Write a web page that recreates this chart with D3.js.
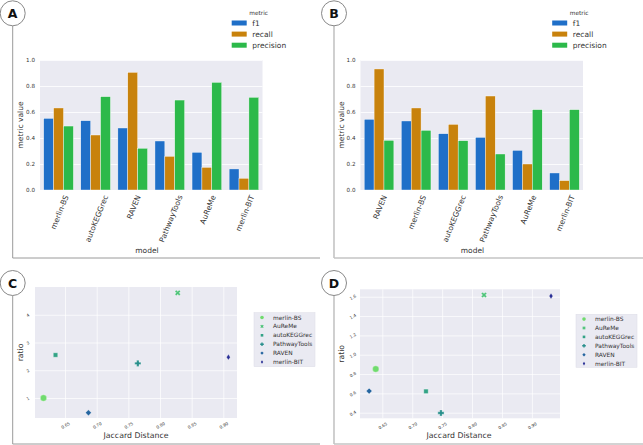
<!DOCTYPE html>
<html><head><meta charset="utf-8">
<script src="https://cdn.jsdelivr.net/npm/d3@7"></script>
<style>body{margin:0;background:#fff}svg{display:block;font-family:"DejaVu Sans",sans-serif}</style>
</head><body><svg id="c" width="643" height="445"></svg>
<script>
// ---------- data ----------
const metrics = ["f1", "recall", "precision"];
const metricColors = ["#1f6fc8", "#c8820c", "#2cb94a"];

const modelsA = ["merlin-BS", "autoKEGGrec", "RAVEN", "PathwayTools", "AuReMe", "merlin-BIT"];
const f1A        = [0.551, 0.533, 0.477, 0.377, 0.290, 0.162];
const recallA    = [0.631, 0.423, 0.905, 0.259, 0.174, 0.090];
const precisionA = [0.492, 0.718, 0.321, 0.692, 0.828, 0.713];

const modelsB = ["RAVEN", "merlin-BS", "autoKEGGrec", "PathwayTools", "AuReMe", "merlin-BIT"];
const f1B        = [0.544, 0.531, 0.433, 0.405, 0.305, 0.131];
const recallB    = [0.931, 0.631, 0.505, 0.723, 0.200, 0.072];
const precisionB = [0.382, 0.459, 0.379, 0.277, 0.618, 0.618];

const barTicks = [0, 0.2, 0.4, 0.6, 0.8, 1.0];

const scatterModels = ["merlin-BS", "AuReMe", "autoKEGGrec", "PathwayTools", "RAVEN", "merlin-BIT"];
const scatterColors = ["#70db6e", "#4fc47a", "#33a386", "#288f8c", "#2565a0", "#2a3096"];
const jaccardC = [0.616, 0.828, 0.635, 0.765, 0.687, 0.908];
const ratioC   = [1.00, 4.79, 2.55, 2.25, 0.47, 2.47];
const jaccardD = [0.639, 0.820, 0.723, 0.748, 0.628, 0.932];
const ratioD   = [0.852, 1.618, 0.621, 0.397, 0.624, 1.607];

const xTicksScatter = [0.65, 0.70, 0.75, 0.80, 0.85, 0.90];
const yTicksC = [1, 2, 3, 4];
const yTicksD = [0.4, 0.6, 0.8, 1.0, 1.2, 1.4, 1.6];

// ---------- drawing ----------
const svg = d3.select("#c");
const BG = "#eaeaf2";
const TXT = "#333";

function panelFrame(cx, cy, letter, bottomY, rightX, col, sw) {
  svg.append("line").attr("x1", cx).attr("y1", cy + 12.5).attr("x2", cx).attr("y2", bottomY)
    .attr("stroke", col).attr("stroke-width", sw);
  svg.append("line").attr("x1", cx).attr("y1", bottomY).attr("x2", rightX).attr("y2", bottomY)
    .attr("stroke", col).attr("stroke-width", sw);
  svg.append("circle").attr("cx", cx).attr("cy", cy).attr("r", 12.5)
    .attr("fill", "#fff").attr("stroke", "#888").attr("stroke-width", 1);
  svg.append("text").attr("x", cx).attr("y", cy).attr("dy", "0.36em").attr("text-anchor", "middle")
    .attr("font-size", 12.5).attr("font-weight", "bold").attr("fill", "#111").text(letter);
}

function barPanel(ox, models, vals, modelX) {
  const x0 = ox + 40, x1 = ox + 262.5, yTop = 60, yBot = 190;
  const g = svg.append("g");
  g.append("rect").attr("x", x0).attr("y", yTop).attr("width", x1 - x0).attr("height", yBot - yTop).attr("fill", BG);
  const y = d3.scaleLinear().domain([0, 1]).range([yBot, yTop]);
  const x = d3.scaleBand().domain(models).range([x0, x1]);
  const xs = d3.scaleBand().domain(metrics).range([0, x.bandwidth() * 0.8]);
  const color = d3.scaleOrdinal().domain(metrics).range(metricColors);
  g.append("g").attr("transform", `translate(${x0},0)`)
    .call(d3.axisLeft(y).tickValues(barTicks).tickSize(-(x1 - x0)).tickFormat(""))
    .call(a => a.select(".domain").remove())
    .call(a => a.selectAll("line").attr("stroke", "#fff").attr("stroke-width", 0.8));
  g.append("g").attr("transform", `translate(${x0},0)`)
    .call(d3.axisLeft(y).tickValues(barTicks).tickSize(0).tickPadding(5).tickFormat(d3.format(".1f")))
    .call(a => a.select(".domain").remove())
    .call(a => a.selectAll("text").attr("font-size", 5.6).attr("fill", TXT).attr("font-family", "DejaVu Sans"));
  const rows = [];
  models.forEach((m, i) => metrics.forEach((k, j) => rows.push({ m, k, v: vals[j][i] })));
  g.selectAll("rect.bar").data(rows).enter().append("rect").attr("class", "bar")
    .attr("x", d => x(d.m) + x.bandwidth() * 0.1 + xs(d.k))
    .attr("width", xs.bandwidth())
    .attr("y", d => y(d.v)).attr("height", d => y(0) - y(d.v))
    .attr("fill", d => color(d.k)).attr("stroke", "#fff").attr("stroke-width", 0.4);
  const ang = 68, ca = Math.cos(ang * Math.PI / 180);
  const xa = g.append("g").attr("transform", `translate(0,${yBot})`)
    .call(d3.axisBottom(x).tickSize(0).tickPadding(0))
    .call(a => a.select(".domain").remove());
  xa.selectAll("text").attr("font-size", 7.5).attr("fill", TXT).attr("font-family", "DejaVu Sans")
    .attr("text-anchor", "end").attr("y", 0).attr("dy", "0.35em")
    .each(function () {
      const L = this.getComputedTextLength();
      d3.select(this).attr("transform", `translate(${L * ca / 2 + 1},5.5) rotate(${-ang})`);
    });
  g.append("text").attr("transform", `translate(${ox + 20.5},${(yTop + yBot) / 2}) rotate(-90)`)
    .attr("text-anchor", "middle").attr("dy", "0.35em").attr("font-size", 7.5).attr("fill", TXT).text("metric value");
  g.append("text").attr("x", modelX).attr("y", 250).attr("dy", "0.35em").attr("text-anchor", "middle")
    .attr("font-size", 7.5).attr("fill", TXT).text("model");
  const lx = ox + 231.7;
  g.append("text").attr("x", lx + 27).attr("y", 13).attr("dy", "0.35em").attr("text-anchor", "middle")
    .attr("font-size", 5.8).attr("fill", TXT).text("metric");
  metrics.forEach((k, i) => {
    const cy = 23 + i * 11.1;
    g.append("rect").attr("x", lx).attr("y", cy - 2.5).attr("width", 15).attr("height", 5).attr("fill", color(k));
    g.append("text").attr("x", lx + 20.6).attr("y", cy).attr("dy", "0.35em").attr("font-size", 7.5)
      .attr("fill", TXT).text(k);
  });
}

function markerPath(type, s) {
  const p = d3.path();
  if (type === 0) { p.arc(0, 0, s, 0, 2 * Math.PI); }
  else if (type === 1) { // X
    const a = s, w = s * 0.5;
    const pts = [[-a, -a + w], [-a + w, -a], [0, -w], [a - w, -a], [a, -a + w], [w, 0], [a, a - w], [a - w, a], [0, w], [-a + w, a], [-a, a - w], [-w, 0]];
    pts.forEach((q, i) => i ? p.lineTo(q[0], q[1]) : p.moveTo(q[0], q[1]));
  } else if (type === 2) { p.rect(-s, -s, 2 * s, 2 * s); }
  else if (type === 3) { // plus
    const a = s, w = s * 0.38;
    const pts = [[-w, -a], [w, -a], [w, -w], [a, -w], [a, w], [w, w], [w, a], [-w, a], [-w, w], [-a, w], [-a, -w], [-w, -w]];
    pts.forEach((q, i) => i ? p.lineTo(q[0], q[1]) : p.moveTo(q[0], q[1]));
  } else if (type === 4) { p.moveTo(0, -s); p.lineTo(s, 0); p.lineTo(0, s); p.lineTo(-s, 0); }
  else { p.moveTo(0, -s); p.lineTo(s * 0.65, 0); p.lineTo(0, s); p.lineTo(-s * 0.65, 0); }
  p.closePath();
  return p.toString();
}
const markerSizes = [3.2, 2.8, 2.2, 3.1, 2.9, 2.9];
const legendSizes = [1.8, 1.7, 1.3, 1.8, 1.7, 1.8];

function scatterPanel(ox, xr, xd, yr, yd, yTicks, yFmt, jac, rat, labX, legBox) {
  const g = svg.append("g");
  const x = d3.scaleLinear().domain(xd).range(xr);
  const y = d3.scaleLinear().domain(yd).range(yr);
  g.append("rect").attr("x", xr[0]).attr("y", yr[1]).attr("width", xr[1] - xr[0]).attr("height", yr[0] - yr[1]).attr("fill", BG);
  g.append("g").attr("transform", `translate(0,${yr[0]})`)
    .call(d3.axisBottom(x).tickValues(xTicksScatter).tickSize(-(yr[0] - yr[1])).tickFormat(""))
    .call(a => a.select(".domain").remove())
    .call(a => a.selectAll("line").attr("stroke", "#fff").attr("stroke-width", 0.7));
  g.append("g").attr("transform", `translate(${xr[0]},0)`)
    .call(d3.axisLeft(y).tickValues(yTicks).tickSize(-(xr[1] - xr[0])).tickFormat(""))
    .call(a => a.select(".domain").remove())
    .call(a => a.selectAll("line").attr("stroke", "#fff").attr("stroke-width", 0.7));
  g.append("g").attr("transform", `translate(0,${yr[0]})`)
    .call(d3.axisBottom(x).tickValues(xTicksScatter).tickSize(0).tickPadding(0).tickFormat(d3.format(".2f")))
    .call(a => a.select(".domain").remove())
    .call(a => a.selectAll("text").attr("font-size", 4.2).attr("fill", TXT).attr("font-family", "DejaVu Sans")
      .attr("text-anchor", "middle").attr("y", 0).attr("dy", "0.35em").attr("transform", "translate(0,7.5) rotate(-30)"));
  g.append("g").attr("transform", `translate(${xr[0]},0)`)
    .call(d3.axisLeft(y).tickValues(yTicks).tickSize(0).tickPadding(0).tickFormat(yFmt))
    .call(a => a.select(".domain").remove())
    .call(a => a.selectAll("text").attr("font-size", 4.2).attr("fill", TXT).attr("font-family", "DejaVu Sans")
      .attr("text-anchor", "middle").attr("x", 0).attr("dy", "0.35em").attr("transform", "translate(-7,0) rotate(-30)"));
  const pts = scatterModels.map((m, i) => ({ m, i, x: jac[i], y: rat[i] }));
  g.selectAll("path.pt").data(pts).enter().append("path").attr("class", "pt")
    .attr("transform", d => `translate(${x(d.x)},${y(d.y)})`)
    .attr("d", d => markerPath(d.i, markerSizes[d.i]))
    .attr("fill", d => scatterColors[d.i]).attr("stroke", "#fff").attr("stroke-width", 0.3);
  g.append("text").attr("x", labX).attr("y", 435.7).attr("dy", "0.35em").attr("text-anchor", "middle")
    .attr("font-size", 7.8).attr("fill", TXT).text("Jaccard Distance");
  g.append("text").attr("transform", `translate(${ox + 20.5},${(yr[0] + yr[1]) / 2}) rotate(-90)`)
    .attr("text-anchor", "middle").attr("dy", "0.35em").attr("font-size", 7.7).attr("fill", TXT).text("ratio");
  const [bx, by, bw, bh] = legBox;
  g.append("rect").attr("x", bx).attr("y", by).attr("width", bw).attr("height", bh)
    .attr("fill", BG).attr("stroke", "#dcdce6").attr("stroke-width", 0.5);
  scatterModels.forEach((m, i) => {
    const cy = by + 4.8 + i * 8.9;
    g.append("path").attr("transform", `translate(${bx + 8},${cy})`).attr("d", markerPath(i, legendSizes[i]))
      .attr("fill", scatterColors[i]);
    g.append("text").attr("x", bx + 19).attr("y", cy).attr("dy", "0.35em").attr("font-size", 5.9)
      .attr("fill", TXT).text(m);
  });
}

panelFrame(12.7, 13.3, "A", 258, 320, "#9a9a9a", 1);
panelFrame(334, 13.3, "B", 258, 643, "#c4c4c4", 1.6);
panelFrame(12.7, 283, "C", 444, 320, "#9a9a9a", 1);
panelFrame(334, 283, "D", 444, 643, "#c4c4c4", 1.6);

barPanel(0, modelsA, [f1A, recallA, precisionA], 147);
barPanel(320.5, modelsB, [f1B, recallB, precisionB], 472.5);

scatterPanel(0, [35, 237], [0.6026, 0.9216], [418, 287], [0.28, 5.0], yTicksC, d3.format("d"),
  jaccardC, ratioC, 136, [254, 312.7, 61, 54]);
scatterPanel(320.5, [360, 560], [0.6127, 0.947], [418.3, 289.3], [0.342, 1.677], yTicksD, d3.format(".1f"),
  jaccardD, ratioD, 459, [576, 314.3, 61, 53]);
</script></body></html>
